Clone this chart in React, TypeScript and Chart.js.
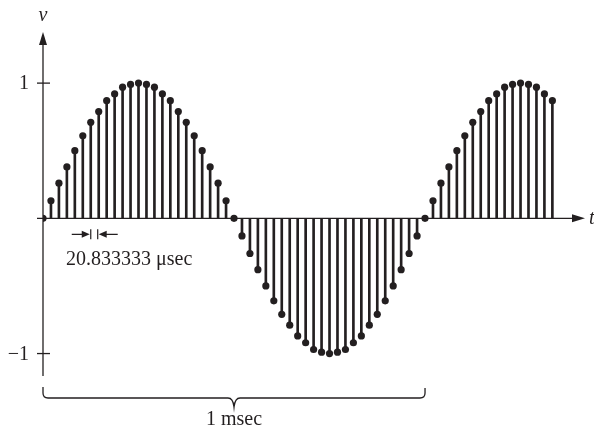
import React, { useEffect, useRef } from "react";
import { Chart, registerables } from "chart.js";

Chart.register(...registerables);

// sample index n (sampling interval 20.833333 µsec, 48 samples per 1 msec)
const sampleIndex: number[] = [
  0, 1, 2, 3, 4, 5, 6, 7, 8, 9, 10, 11, 12, 13, 14, 15, 16, 17, 18, 19, 20, 21, 22, 23, 24,
  25, 26, 27, 28, 29, 30, 31, 32, 33, 34, 35, 36, 37, 38, 39, 40, 41, 42, 43, 44, 45, 46, 47, 48,
  49, 50, 51, 52, 53, 54, 55, 56, 57, 58, 59, 60, 61, 62, 63, 64,
];

// sampled amplitude v
const sampleValue: number[] = [
  0, 0.13, 0.26, 0.38, 0.5, 0.61, 0.71, 0.79, 0.87, 0.92, 0.97, 0.99, 1, 0.99, 0.97, 0.92, 0.87, 0.79, 0.71, 0.61, 0.5, 0.38, 0.26, 0.13, 0,
  -0.13, -0.26, -0.38, -0.5, -0.61, -0.71, -0.79, -0.87, -0.92, -0.97, -0.99, -1, -0.99, -0.97, -0.92, -0.87, -0.79, -0.71, -0.61, -0.5, -0.38, -0.26, -0.13, 0,
  0.13, 0.26, 0.38, 0.5, 0.61, 0.71, 0.79, 0.87, 0.92, 0.97, 0.99, 1, 0.99, 0.97, 0.92, 0.87,
];

const yTickValues: number[] = [1, -1];
const yTickLabels: string[] = ["1", "\u22121"];
const intervalLabel = "20.833333 \u03bcsec";
const periodLabel = "1 msec";
const periodStart = 0;
const periodEnd = 48;
const intervalStart = 6;
const intervalEnd = 7;

const INK = "#231f20";
const FONT = "'Liberation Serif', 'DejaVu Serif', serif";

export default function App() {
  const ref = useRef<HTMLCanvasElement | null>(null);

  useEffect(() => {
    document.body.style.margin = "0";
    const canvas = ref.current;
    if (!canvas) return;

    const points = sampleIndex.map((x, i) => ({ x, y: sampleValue[i] }));

    const decor = {
      id: "decor",
      beforeDatasetsDraw(chart: any) {
        const ctx = chart.ctx;
        const xs = chart.scales.x;
        const ys = chart.scales.y;
        const x0 = xs.getPixelForValue(0);
        const y0 = ys.getPixelForValue(0);
        const top = chart.chartArea.top;
        const bottom = chart.chartArea.bottom;
        const right = chart.chartArea.right;
        ctx.save();
        ctx.strokeStyle = INK;
        ctx.fillStyle = INK;
        ctx.lineWidth = 1.3;
        // x axis
        ctx.beginPath();
        ctx.moveTo(x0 - 6, y0);
        ctx.lineTo(right - 8, y0);
        ctx.stroke();
        ctx.beginPath();
        ctx.moveTo(right, y0);
        ctx.lineTo(right - 13, y0 - 4);
        ctx.lineTo(right - 13, y0 + 4);
        ctx.closePath();
        ctx.fill();
        // y axis
        ctx.beginPath();
        ctx.moveTo(x0, bottom);
        ctx.lineTo(x0, top + 8);
        ctx.stroke();
        ctx.beginPath();
        ctx.moveTo(x0, top);
        ctx.lineTo(x0 - 4, top + 13);
        ctx.lineTo(x0 + 4, top + 13);
        ctx.closePath();
        ctx.fill();
        // y ticks
        ctx.font = `20px ${FONT}`;
        ctx.textAlign = "right";
        ctx.textBaseline = "middle";
        yTickValues.forEach((v, i) => {
          const py = ys.getPixelForValue(v);
          ctx.beginPath();
          ctx.moveTo(x0 - 6, py);
          ctx.lineTo(x0 + 7, py);
          ctx.stroke();
          ctx.fillText(yTickLabels[i], x0 - 14, py + 1);
        });
        // axis labels
        ctx.font = `italic 20px ${FONT}`;
        ctx.textAlign = "center";
        ctx.textBaseline = "alphabetic";
        ctx.fillText("v", x0, 21);
        ctx.textAlign = "left";
        ctx.fillText("t", right + 4, y0 + 6);

        // interval marker
        const a = xs.getPixelForValue(intervalStart);
        const b = xs.getPixelForValue(intervalEnd) - 1;
        const my = y0 + 16;
        ctx.lineWidth = 1.2;
        ctx.beginPath();
        ctx.moveTo(a, my - 5);
        ctx.lineTo(a, my + 5);
        ctx.moveTo(b, my - 5);
        ctx.lineTo(b, my + 5);
        ctx.moveTo(a - 19, my);
        ctx.lineTo(a - 6, my);
        ctx.moveTo(b + 6, my);
        ctx.lineTo(b + 20, my);
        ctx.stroke();
        ctx.beginPath();
        ctx.moveTo(a - 1, my);
        ctx.lineTo(a - 9, my - 3.5);
        ctx.lineTo(a - 9, my + 3.5);
        ctx.closePath();
        ctx.fill();
        ctx.beginPath();
        ctx.moveTo(b + 1, my);
        ctx.lineTo(b + 9, my - 3.5);
        ctx.lineTo(b + 9, my + 3.5);
        ctx.closePath();
        ctx.fill();
        ctx.font = `20px ${FONT}`;
        ctx.textAlign = "center";
        ctx.fillText(intervalLabel, (a + b) / 2 + 35, y0 + 47);

        // brace
        const L = xs.getPixelForValue(periodStart);
        const R = xs.getPixelForValue(periodEnd);
        const C = (L + R) / 2;
        const by = bottom + 22;
        const r = 5;
        ctx.lineWidth = 1.3;
        ctx.beginPath();
        ctx.moveTo(L, by - 11);
        ctx.lineTo(L, by - r);
        ctx.quadraticCurveTo(L, by, L + r, by);
        ctx.lineTo(C - 6, by);
        ctx.quadraticCurveTo(C - 1, by, C, by + 9);
        ctx.quadraticCurveTo(C + 1, by, C + 6, by);
        ctx.lineTo(R - r, by);
        ctx.quadraticCurveTo(R, by, R, by - r);
        ctx.lineTo(R, by - 10);
        ctx.stroke();
        ctx.fillText(periodLabel, C, by + 27);
        ctx.restore();
      },
    };

    const chart = new Chart(canvas, {
      data: {
        datasets: [
          {
            type: "bar",
            data: points,
            backgroundColor: INK,
            borderWidth: 0,
            barThickness: 2,
            order: 2,
          },
          {
            type: "scatter",
            data: points,
            pointRadius: 3.6,
            pointBackgroundColor: INK,
            pointBorderWidth: 0,
            showLine: false,
            order: 1,
          },
        ],
      } as any,
      options: {
        responsive: false,
        animation: false,
        layout: { padding: { left: 43, right: 9, top: 32, bottom: 55 } },
        plugins: { legend: { display: false }, tooltip: { enabled: false } },
        scales: {
          x: { type: "linear", min: 0, max: 68.1, display: false, offset: false },
          y: { type: "linear", min: -1.166, max: 1.378, display: false },
        },
      },
      plugins: [decor],
    } as any);

    return () => chart.destroy();
  }, []);

  return <canvas ref={ref} width={594} height={431} style={{ display: "block" }} />;
}
